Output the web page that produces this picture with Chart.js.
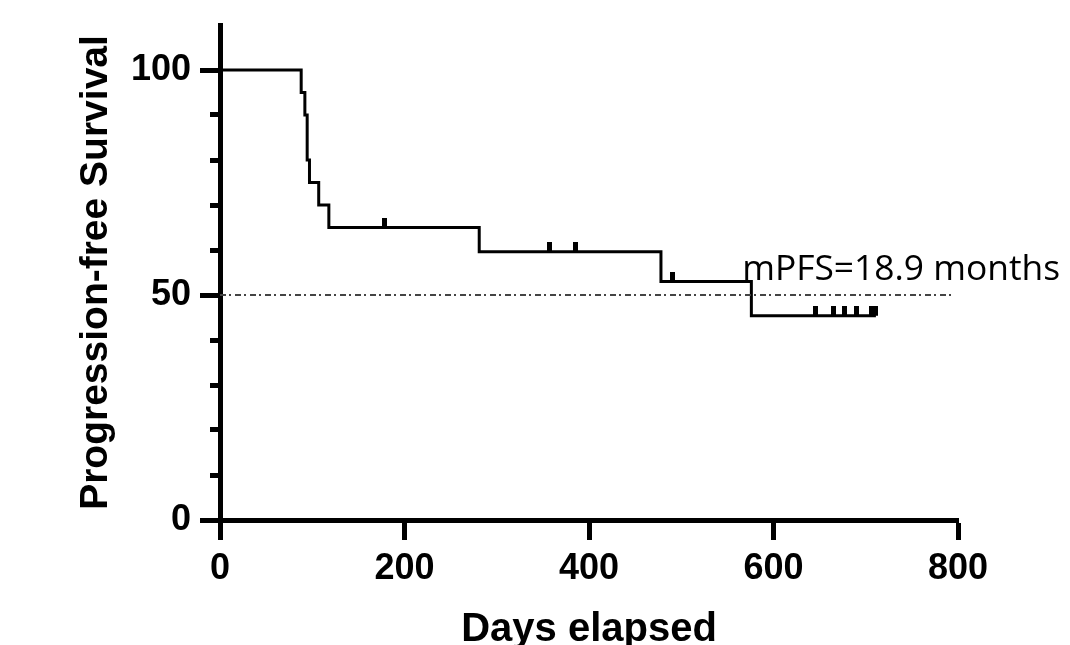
<!DOCTYPE html>
<html>
<head>
<meta charset="utf-8">
<script src="https://cdn.jsdelivr.net/npm/chart.js@4.4.0/dist/chart.umd.min.js"></script>
<style>
  html, body { margin: 0; padding: 0; background: #fff; }
  #wrap { width: 1070px; height: 645px; }
</style>
</head>
<body>
<div id="wrap"><canvas id="myChart" width="1070" height="645"></canvas></div>
<script>
// Kaplan-Meier steps (days, % progression-free)
const kmDays = [0, 88, 92, 94.5, 97, 107, 118, 281, 478, 576, 711];
const kmSurvival = [100, 95, 90, 80, 75, 70, 65, 59.6, 53, 45.4, 45.4];
// censored patients (days)
const censorDays = [178, 357, 385, 490, 645, 665, 677, 690, 706, 711];
// median line and its label
const medianLevel = 50;
const medianEnd = 795;
const medianLabel = 'mPFS=18.9 months';
const xTicks = [0, 200, 400, 600, 800];
const yMajorTicks = [0, 50, 100];
const yMinorTicks = [0, 10, 20, 30, 40, 50, 60, 70, 80, 90, 100];

const boldFont = "'Liberation Sans', Arial, sans-serif";

// survival level in force on a given day
function survivalAt(day) {
    let s = kmSurvival[0];
    for (let i = 0; i < kmDays.length; i++) {
        if (kmDays[i] <= day) s = kmSurvival[i];
    }
    return s;
}

// small upright tick, sitting on top of the curve
function censorMark() {
    const c = document.createElement('canvas');
    c.width = 5;
    c.height = 20;
    const g = c.getContext('2d');
    g.fillStyle = '#000';
    g.fillRect(0, 0, 5, 10);
    return c;
}

const medianText = {
    id: 'medianText',
    afterDatasetsDraw(chart) {
        const {ctx, scales} = chart;
        const x = scales.x.getPixelForValue(566);
        const y = scales.y.getPixelForValue(53.4);
        ctx.save();
        ctx.font = "35px 'Open Sans', sans-serif";
        const w = ctx.measureText(medianLabel).width;
        ctx.translate(x, y);
        ctx.scale(318 / w, 1);
        ctx.fillStyle = '#000';
        ctx.textBaseline = 'alphabetic';
        ctx.textAlign = 'left';
        ctx.fillText(medianLabel, 0, 0);
        ctx.restore();
    }
};

function noPad(s) {
    s.paddingTop = 0;
    s.paddingBottom = 0;
    s.paddingLeft = 0;
    s.paddingRight = 0;
}

function makeChart() {
    const ctx = document.getElementById('myChart').getContext('2d');
    const mark = censorMark();
    return new Chart(ctx, {
        type: 'line',
        data: {
            datasets: [{
                label: 'median',
                data: [{x: 0, y: medianLevel}, {x: medianEnd, y: medianLevel}],
                borderColor: '#444',
                borderWidth: 2,
                borderDash: [6, 3, 2, 4],
                pointRadius: 0
            }, {
                label: 'PFS',
                data: kmDays.map((d, i) => ({x: d, y: kmSurvival[i]})),
                stepped: true,
                borderColor: '#000',
                borderWidth: 3,
                pointRadius: 0
            }, {
                label: 'censored',
                data: censorDays.map(d => ({x: d, y: survivalAt(d)})),
                showLine: false,
                pointStyle: mark,
                pointRadius: 5
            }]
        },
        options: {
            responsive: false,
            animation: false,
            layout: {padding: {left: 77, right: 112, top: 25, bottom: 0}},
            plugins: {legend: {display: false}, tooltip: {enabled: false}},
            scales: {
                x: {
                    type: 'linear',
                    min: 0,
                    max: 800,
                    afterBuildTicks: s => { s.ticks = xTicks.map(v => ({value: v})); },
                    border: {display: true, color: '#000', width: 5},
                    grid: {drawOnChartArea: false, tickLength: 20, tickWidth: 5, tickColor: '#000'},
                    ticks: {color: '#000', font: {family: boldFont, size: 36, weight: 'bold'}, padding: 7, maxRotation: 0},
                    title: {
                        display: true,
                        text: 'Days elapsed',
                        color: '#000',
                        font: {family: boldFont, size: 40, weight: 'bold', lineHeight: 1},
                        padding: {top: 0, bottom: -5}
                    },
                    afterFit: s => { s.height = 125; noPad(s); }
                },
                y: {
                    type: 'linear',
                    position: 'left',
                    weight: 1,
                    min: 0,
                    max: 110,
                    afterBuildTicks: s => { s.ticks = yMajorTicks.map(v => ({value: v})); },
                    border: {display: true, color: '#000', width: 5},
                    grid: {drawOnChartArea: false, tickLength: 20, tickWidth: 5, tickColor: '#000'},
                    ticks: {color: '#000', font: {family: boldFont, size: 36, weight: 'bold'}, padding: 9},
                    title: {
                        display: true,
                        text: 'Progression-free Survival',
                        color: '#000',
                        font: {family: boldFont, size: 39, weight: 'bold', lineHeight: 1},
                        padding: 0
                    },
                    afterFit: s => { s.width = 143; noPad(s); }
                },
                y2: {
                    type: 'linear',
                    position: 'left',
                    weight: 0,
                    min: 0,
                    max: 110,
                    afterBuildTicks: s => { s.ticks = yMinorTicks.map(v => ({value: v})); },
                    border: {display: false},
                    grid: {drawOnChartArea: false, tickLength: 10, tickWidth: 5, tickColor: '#000'},
                    ticks: {display: false},
                    afterFit: s => { s.width = 0; noPad(s); }
                }
            }
        },
        plugins: [medianText]
    });
}

makeChart();
</script>
</body>
</html>
